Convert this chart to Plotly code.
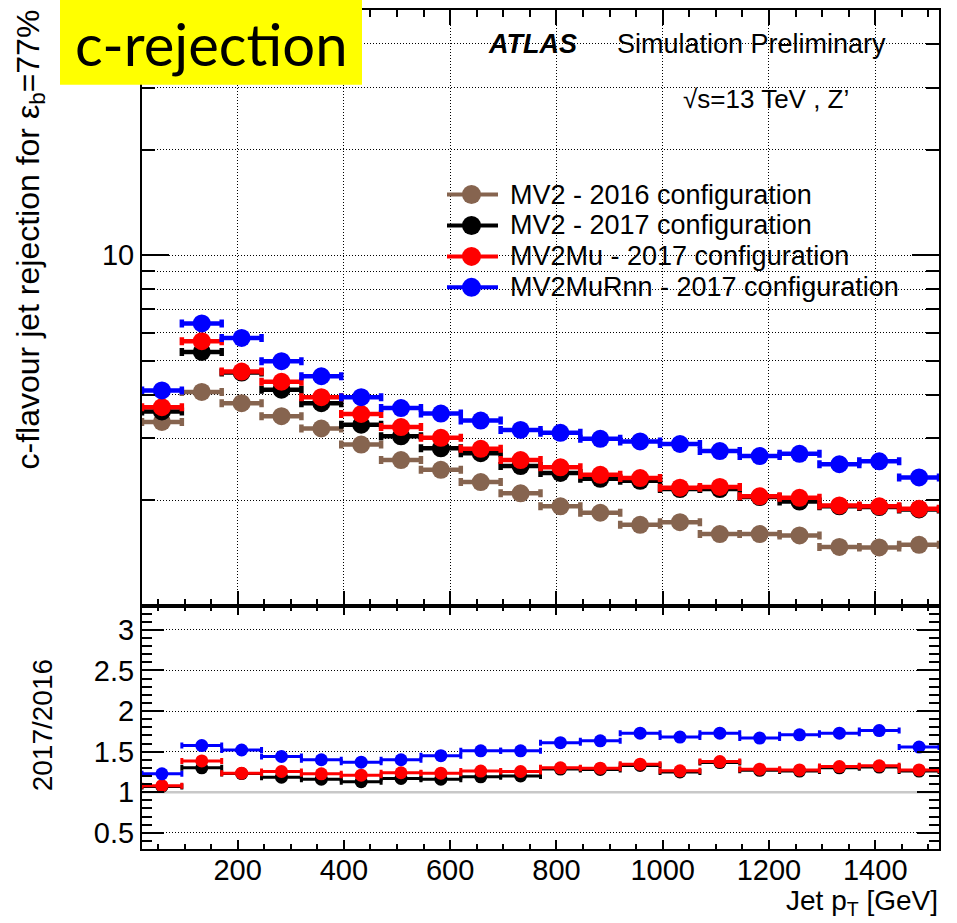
import plotly.graph_objects as go

# ---------------- data ----------------
pt_centers = [57.5, 132.5, 207.5, 282.5, 357.5, 432.5, 507.5, 582.5, 657.5, 732.5,
              807.5, 882.5, 957.5, 1032.5, 1107.5, 1182.5, 1257.5, 1332.5, 1407.5, 1482.5]
pt_halfwidth = [37.5] * 20

mv2_2016 = [3.34, 4.07, 3.78, 3.47, 3.20, 2.88, 2.60, 2.44, 2.25, 2.09,
            1.92, 1.84, 1.70, 1.73, 1.60, 1.60, 1.585, 1.47, 1.465, 1.49]
mv2_2017 = [3.58, 5.29, 4.62, 4.13, 3.78, 3.28, 3.04, 2.81, 2.72, 2.50,
            2.39, 2.30, 2.27, 2.15, 2.15, 2.04, 1.98, 1.92, 1.91, 1.88]
mv2mu_2017 = [3.68, 5.68, 4.65, 4.35, 3.93, 3.52, 3.23, 3.01, 2.80, 2.60,
              2.48, 2.36, 2.31, 2.17, 2.18, 2.05, 2.03, 1.93, 1.92, 1.89]
mv2murnn_2017 = [4.11, 6.38, 5.80, 4.98, 4.51, 3.93, 3.66, 3.53, 3.37, 3.17,
                 3.11, 2.99, 2.94, 2.89, 2.76, 2.67, 2.71, 2.53, 2.58, 2.32]

ratio_mv2_2017 = [1.07, 1.30, 1.23, 1.185, 1.16, 1.13, 1.17, 1.16, 1.19, 1.20,
                  1.285, 1.28, 1.33, 1.25, 1.365, 1.27, 1.26, 1.30, 1.31, 1.26]
ratio_mv2mu_2017 = [1.08, 1.386, 1.235, 1.255, 1.226, 1.21, 1.24, 1.235, 1.26, 1.255,
                    1.30, 1.296, 1.346, 1.263, 1.378, 1.284, 1.275, 1.316, 1.325, 1.275]
ratio_mv2murnn_2017 = [1.226, 1.575, 1.52, 1.44, 1.40, 1.37, 1.40, 1.45, 1.51, 1.51,
                       1.61, 1.633, 1.728, 1.68, 1.728, 1.667, 1.707, 1.728, 1.76, 1.556]

series_names = ["MV2 - 2016 configuration", "MV2 - 2017 configuration",
                "MV2Mu - 2017 configuration", "MV2MuRnn - 2017 configuration"]
series_colors = ["#86644f", "#000000", "#ff0000", "#0000ff"]

x_range = [20, 1520]
x_ticks = [200, 400, 600, 800, 1000, 1200, 1400]
ratio_ticks = [0.5, 1, 1.5, 2, 2.5, 3]
ratio_reference = [1, 1]
log_minor = [2, 3, 4, 5, 6, 7, 8, 9, 20, 30, 40]

# ---------------- layout helpers ----------------
W, H = 957, 923
ML, MR, MT, MB = 142, 18, 8, 74
PW, PH = W - ML - MR, H - MT - MB
def px(x):
    return (x - ML) / PW
def py(y):
    return (H - MB - y) / PH

split = py(605)
FONT = "Liberation Sans"

fig = go.Figure()

top_series = [mv2_2016, mv2_2017, mv2mu_2017, mv2murnn_2017]
for name, col, vals in zip(series_names, series_colors, top_series):
    fig.add_trace(go.Scatter(
        x=pt_centers, y=vals, mode="markers", name=name, showlegend=False,
        marker=dict(color=col, size=18, line=dict(width=0)),
        error_x=dict(type="data", array=pt_halfwidth, color=col, thickness=4.5, width=4),
        xaxis="x", yaxis="y"))

# reference line at ratio = 1 (under the ratio markers)
fig.add_trace(go.Scatter(x=x_range, y=ratio_reference, mode="lines", showlegend=False,
                         line=dict(color="#c8c8c8", width=2.5), hoverinfo="skip",
                         xaxis="x2", yaxis="y2"))

ratio_series = [ratio_mv2_2017, ratio_mv2mu_2017, ratio_mv2murnn_2017]
for name, col, vals in zip(series_names[1:], series_colors[1:], ratio_series):
    fig.add_trace(go.Scatter(
        x=pt_centers, y=vals, mode="markers", name=name, showlegend=False,
        marker=dict(color=col, size=13, line=dict(width=0)),
        error_x=dict(type="data", array=pt_halfwidth, color=col, thickness=3, width=3),
        xaxis="x2", yaxis="y2"))

axis_common = dict(showline=True, linecolor="black", linewidth=2, mirror="allticks",
                   ticks="inside", tickcolor="black", tickwidth=1.5, zeroline=False,
                   tickfont=dict(family=FONT, size=29, color="black"))
dot = "1px,2px"

fig.update_layout(
    width=W, height=H, margin=dict(l=ML, r=MR, t=MT, b=MB),
    paper_bgcolor="white", plot_bgcolor="white", showlegend=False,
    xaxis=dict(axis_common, domain=[0, 1], anchor="y", range=x_range,
               tickmode="array", tickvals=x_ticks, showticklabels=False, ticklen=15,
               showgrid=True, gridcolor="black", gridwidth=1, griddash=dot,
               minor=dict(dtick=50, tick0=0, ticks="inside", ticklen=7, tickcolor="black",
                          showgrid=False)),
    yaxis=dict(axis_common, domain=[split, 1], anchor="x", type="log",
               range=[0, 1.69897], tickmode="array", tickvals=[10], ticktext=["10"],
               ticklen=27, showgrid=True, gridcolor="black", gridwidth=1, griddash=dot,
               minor=dict(tickmode="array", tickvals=log_minor, ticks="inside", ticklen=13,
                          tickcolor="black", showgrid=True, gridcolor="black",
                          gridwidth=1, griddash=dot)),
    xaxis2=dict(axis_common, domain=[0, 1], anchor="y2", range=x_range, matches="x",
                tickmode="array", tickvals=x_ticks, ticklen=9, showgrid=False,
                ticklabelstandoff=-6,
                minor=dict(dtick=50, tick0=0, ticks="inside", ticklen=5, tickcolor="black",
                           showgrid=False)),
    yaxis2=dict(axis_common, domain=[0, split], anchor="x2", range=[0.3, 3.3],
                tickmode="array", tickvals=ratio_ticks,
                ticktext=["0.5", "1", "1.5", "2", "2.5", "3"], ticklen=22,
                showgrid=True, gridcolor="black", gridwidth=1, griddash=dot,
                minor=dict(dtick=0.1, tick0=0, ticks="inside", ticklen=10,
                           tickcolor="black", showgrid=False)),
)

shapes = []
# yellow label box
shapes.append(dict(type="rect", xref="paper", yref="paper", x0=px(60), x1=px(362),
                   y0=py(83), y1=py(-2), fillcolor="#ffff00", line=dict(width=0),
                   layer="above"))
# legend symbols
legend_rows = [193, 224, 255, 286]
for col, ry in zip(series_colors, legend_rows):
    shapes.append(dict(type="line", xref="paper", yref="paper", x0=px(447), x1=px(498),
                       y0=py(ry), y1=py(ry), line=dict(color=col, width=4), layer="above"))
    shapes.append(dict(type="circle", xref="paper", yref="paper",
                       x0=px(471.5 - 9.5), x1=px(471.5 + 9.5),
                       y0=py(ry + 9.5), y1=py(ry - 9.5), fillcolor=col,
                       line=dict(width=0), layer="above"))
fig.update_layout(shapes=shapes)

ann = []
ann.append(dict(text="c-rejection", xref="paper", yref="paper", x=px(211), y=py(42),
                xanchor="center", yanchor="middle", showarrow=False,
                font=dict(family="Lato", size=58, color="black")))
ann.append(dict(text="<b><i>ATLAS</i></b>", xref="paper", yref="paper", x=px(486), y=py(42),
                xanchor="left", yanchor="middle", showarrow=False,
                font=dict(family=FONT, size=27, color="black")))
ann.append(dict(text="Simulation Preliminary", xref="paper", yref="paper", x=px(615), y=py(42),
                xanchor="left", yanchor="middle", showarrow=False,
                font=dict(family=FONT, size=27, color="black")))
ann.append(dict(text="√s=13 TeV , Z’", xref="paper", yref="paper", x=px(681), y=py(97),
                xanchor="left", yanchor="middle", showarrow=False,
                font=dict(family=FONT, size=26, color="black")))
for name, ry in zip(series_names, legend_rows):
    ann.append(dict(text=name, xref="paper", yref="paper", x=px(508), y=py(ry),
                    xanchor="left", yanchor="middle", showarrow=False,
                    font=dict(family=FONT, size=27, color="black")))
ann.append(dict(text="c-flavour jet rejection for ε<sub>b</sub>=77%", xref="paper",
                yref="paper", x=px(30), y=py(238), xanchor="center", yanchor="middle",
                textangle=-90, showarrow=False,
                font=dict(family=FONT, size=32, color="black")))
ann.append(dict(text="2017/2016", xref="paper", yref="paper", x=px(42), y=py(725),
                xanchor="center", yanchor="middle", textangle=-90, showarrow=False,
                font=dict(family=FONT, size=28, color="black")))
ann.append(dict(text="Jet p<sub>T</sub> [GeV]", xref="paper", yref="paper", x=px(940),
                y=py(903), xanchor="right", yanchor="middle", showarrow=False,
                font=dict(family=FONT, size=28, color="black")))
fig.update_layout(annotations=ann)

fig.write_html("out.html")
